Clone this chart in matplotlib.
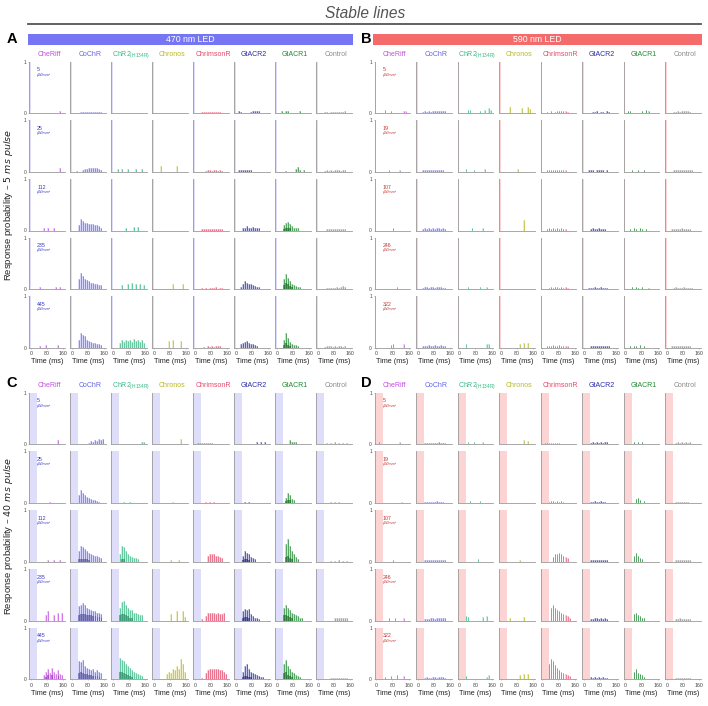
import numpy as np
import matplotlib
matplotlib.use("Agg")
import matplotlib.pyplot as plt
from matplotlib.patches import Rectangle
from matplotlib.lines import Line2D

plt.rcParams['font.family'] = ['Liberation Sans', 'DejaVu Sans']
plt.rcParams['mathtext.fontset'] = 'dejavusans'

# ---------------- data ----------------
CONSTRUCTS = ['CheRiff', 'CoChR', 'ChR2', 'Chronos', 'ChrimsonR', 'GtACR2', 'GtACR1', 'Control']
COLORS = ['#c24fe0', '#6464ec', '#35b884', '#b9b925', '#e5486a', '#2b2ba6', '#1f8a30', '#8a8a8a']
BIN_CENTERS = [5, 15, 25, 35, 45, 55, 65, 75, 85, 95, 105, 115, 125, 135, 145, 155]
INTENS_470 = [5, 25, 112, 235, 445]
INTENS_590 = [5, 19, 107, 246, 322]
X_TICKS = [0, 80, 160]

# Panel A: 470 nm, 5 ms pulse (rows = intensities, 16 time bins of 10 ms)
A_CheRiff = [[0,0,0,0,0,0,0,0,0,0,0,0,0,0,.05,0],
             [0,0,0,0,0,0,0,0,0,0,0,0,0,0,.08,0],
             [0,0,0,0,0,0,.04,0,.05,0,0,.04,0,0,0,0],
             [0,0,0,0,.05,0,0,0,0,0,0,0,.05,0,.05,0],
             [0,0,0,0,.04,0,0,.05,0,0,0,0,0,.05,0,0]]
A_CoChR = [[0,0,0,0,.03,.02,.03,.03,.02,.03,.03,.03,.02,.03,.03,0],
           [0,0,.02,0,0,.03,.05,.06,.08,.08,.08,.08,.07,.06,.03,0],
           [0,0,0,.1,.22,.18,.15,.14,.12,.12,.13,.1,.1,.08,.05,0],
           [0,0,0,.2,.32,.25,.2,.17,.15,.12,.12,.1,.1,.08,.08,0],
           [0,0,0,.15,.28,.25,.22,.15,.13,.12,.1,.1,.08,.08,.06,0]]
A_ChR2 = [[0,0,0,0,0,0,0,0,0,0,0,0,0,0,0,0],
          [0,0,.06,0,.06,0,0,.05,0,0,0,.06,0,0,.05,0],
          [0,0,0,0,0,0,.05,0,0,0,.06,0,.07,0,0,0],
          [0,0,0,0,.08,0,0,.1,0,.12,0,.1,0,.1,0,.08],
          [0,0,0,.1,.14,.12,.15,.13,.14,.12,.16,.13,.14,.12,.15,.1]]
A_Chronos = [[0,0,0,0,0,0,0,0,0,0,0,0,0,0,0,0],
             [0,0,0,.12,0,0,0,0,0,0,0,.11,0,0,0,0],
             [0,0,0,0,0,0,0,0,0,0,0,0,0,0,0,0],
             [0,0,0,0,0,0,0,0,0,.1,0,0,0,0,.1,0],
             [0,0,0,0,0,0,0,.13,0,.14,0,0,0,.13,0,0]]
A_ChrimsonR = [[0,0,0,.02,.03,.03,.02,.03,.03,.02,.03,.03,.02,0,0,0],
               [0,0,0,0,0,.02,.03,.03,.02,.03,.03,.02,.03,.02,0,0],
               [0,0,0,.02,.03,.02,.03,.03,.03,.02,.03,.03,.02,.02,0,0],
               [0,0,0,.02,0,.03,0,.03,.02,.02,.04,0,.03,.02,0,0],
               [0,0,0,0,.02,0,.03,.02,.03,.02,.04,.03,.03,0,0,0]]
A_GtACR2 = [[0,.04,.03,0,0,0,0,.03,.04,.04,.04,.04,0,0,0,0],
            [0,.03,.04,.03,.04,.04,.03,.03,0,0,0,0,0,0,0,0],
            [0,0,0,.05,.04,.08,.05,.05,.06,.05,.04,.04,0,0,0,0],
            [0,0,.04,.1,.15,.12,.1,.1,.08,.06,.05,.04,0,0,0,0],
            [0,0,.08,.1,.12,.13,.1,.08,.08,.06,.04,0,0,0,0,0]]
A_GtACR1 = [[0,0,.04,0,.04,.04,0,0,0,0,0,.04,0,0,0,0],
            [0,0,0,0,.02,0,0,0,0,.05,.1,.04,0,.04,0,0],
            [0,0,0,.1,.14,.16,.12,.08,.05,.05,.04,0,0,0,0,0],
            [0,0,0,.2,.3,.22,.15,.1,.08,.06,.05,.04,0,0,0,0],
            [0,0,0,.15,.28,.18,.12,.08,.06,.05,.04,0,0,0,0,0]]
A_GtACR1_dark = [[0]*16, [0]*16,
                 [0,0,0,.03,.05,.05,.04,0,0,0,0,0,0,0,0,0],
                 [0,0,0,.08,.12,.1,.06,.04,0,0,0,0,0,0,0,0],
                 [0,0,0,.06,.1,.06,.04,0,0,0,0,0,0,0,0,0]]
A_Control = [[0,0,0,.02,.03,0,.03,.02,.03,.03,.02,.03,.03,.04,0,0],
             [0,0,0,.02,.03,.02,.03,.02,.03,.03,.03,.02,.03,.03,0,0],
             [0,0,0,0,.03,.02,.03,.02,.03,.02,.03,.02,.03,.03,0,0],
             [0,0,0,0,.03,.03,.03,.03,.03,.04,.03,.05,.06,.05,0,0],
             [0,0,0,.02,.03,.03,.03,.02,.03,.02,.03,.03,.02,.03,0,0]]

# Panel B: 590 nm, 5 ms pulse
B_CheRiff = [[0,0,0,0,.06,0,0,.05,0,0,0,0,0,.05,.05,0],
             [0,0,0,0,0,0,.04,0,0,0,0,.04,0,0,0,0],
             [0,0,0,0,0,0,0,0,.04,0,0,0,0,0,0,0],
             [0,0,0,0,0,0,0,0,0,0,.04,0,0,0,0,0],
             [0,0,0,0,0,0,0,.06,.08,0,0,0,0,.07,0,0]]
B_CoChR = [[0,0,.03,.04,.03,.04,.03,.04,.04,.05,.04,.05,.04,.04,0,0],
           [0,0,.03,.03,.04,.03,.04,.03,.04,.04,.03,.04,.03,0,0,0],
           [0,0,.03,.04,.03,.04,.03,.04,.03,.04,.04,.03,.04,.03,0,0],
           [0,0,.03,.04,.04,.03,.04,.04,.03,.04,.04,.04,.03,.03,0,0],
           [0,0,.03,.04,.03,.05,.04,.04,.05,.04,.04,.05,.04,.03,0,0]]
B_ChR2 = [[0,0,0,0,.06,.06,0,0,0,0,.05,0,.06,0,.1,.06],
          [0,0,0,.05,0,0,0,.04,0,0,0,0,.05,0,0,0],
          [0,0,0,0,0,0,.04,0,0,0,0,.05,0,0,0,0],
          [0,0,0,0,.04,0,0,0,0,0,.04,0,0,.05,0,0],
          [0,0,0,.08,0,0,0,0,0,0,0,0,0,.07,.08,0]]
B_Chronos = [[0,0,0,0,.12,0,0,0,0,0,.1,0,0,.12,.08,0],
             [0,0,0,0,0,0,0,0,.05,0,0,0,0,0,0,0],
             [0,0,0,0,0,0,0,0,0,0,0,.2,0,0,0,0],
             [0,0,0,0,0,0,0,0,0,0,0,0,0,0,0,0],
             [0,0,0,0,0,0,0,0,0,.08,0,.1,0,.1,0,0]]
B_ChrimsonR = [[0,0,.03,0,.04,0,.03,.04,.05,.04,.05,.04,.03,0,0,0],
               [0,0,.03,.03,.04,.03,.04,.03,.04,.03,.03,.04,0,0,0,0],
               [0,0,.03,.04,.03,.04,.03,.04,.03,.04,.03,.03,0,0,0,0],
               [0,0,0,.03,.04,.03,.04,.04,.03,.04,.03,.04,.03,0,0,0],
               [0,0,.03,.04,.04,.05,.04,.04,.05,.04,.04,.03,.03,0,0,0]]
B_GtACR2 = [[0,0,0,0,.03,.03,.04,0,.03,.03,0,.04,.03,0,0,0],
            [0,0,.03,.03,.03,0,.03,.03,.03,.03,0,.03,0,0,0,0],
            [0,0,0,.03,.04,.03,.03,.04,.03,.03,.03,0,0,0,0,0],
            [0,0,.03,.03,.03,.04,.03,.03,.04,.03,.03,.03,0,0,0,0],
            [0,0,0,.03,.03,.03,.04,.03,.03,.04,.03,.03,.03,0,0,0]]
B_GtACR1 = [[0,.05,.05,0,0,0,0,0,.05,0,.06,.05,0,0,0,0],
            [0,0,0,.04,0,0,.04,0,0,.04,0,0,0,0,0,0],
            [0,0,.03,0,.04,.03,0,.04,.03,0,.03,0,0,0,0,0],
            [0,0,0,.04,0,.04,.03,0,.04,0,0,.03,0,0,0,0],
            [0,0,.04,0,.03,.04,0,.05,0,.04,0,0,0,0,0,0]]
B_Control = [[0,0,0,.03,.03,.04,.03,.04,.04,.05,.04,.03,0,0,0,0],
             [0,0,0,.03,.03,.03,.04,.03,.03,.03,.04,.03,.03,0,0,0],
             [0,0,.03,.03,.03,.03,.03,.04,.03,.03,.03,.03,0,0,0,0],
             [0,0,0,.03,.04,.03,.03,.03,.04,.03,.03,.03,.03,0,0,0],
             [0,0,.03,.03,.03,.04,.03,.03,.03,.03,.04,.03,0,0,0,0]]

# Panel C: 470 nm, 40 ms pulse
C_CheRiff = [[0,0,0,0,0,0,0,0,0,0,0,0,0,.08,0,0],
             [0,0,0,0,0,0,0,0,0,.02,0,0,0,0,0,0],
             [0,0,0,0,0,0,0,0,.04,0,0,.04,0,0,.04,0],
             [0,0,0,0,0,0,0,.1,.18,0,0,.1,0,.14,0,.14],
             [0,0,0,0,0,0,.08,.15,.2,.12,.22,.15,.1,.18,.1,.08]]
C_CheRiff_dark = [[0]*16, [0]*16, [0]*16, [0]*16,
                  [0,0,0,0,0,0,0,.05,.08,0,.08,0,0,.06,0,0]]
C_CoChR = [[0,0,0,0,0,0,0,0,.03,.06,.05,.08,.06,.1,.08,.1],
           [0,0,0,.15,.25,.2,.15,.12,.1,.08,.06,.05,.04,.03,0,0],
           [0,0,0,.2,.3,.28,.25,.2,.18,.16,.14,.12,.12,.1,.08,0],
           [0,0,0,.28,.3,.34,.3,.25,.22,.2,.18,.18,.15,.15,.12,0],
           [0,0,0,.35,.33,.38,.25,.22,.2,.18,.2,.15,.18,.15,.12,0]]
C_CoChR_dark = [[0]*16, [0]*16,
                [0,0,0,.05,.06,.06,.05,.05,.04,0,0,0,0,0,0,0],
                [0,0,0,.1,.12,.12,.12,.1,.1,.1,.08,.08,.06,.06,.05,0],
                [0,0,0,.12,.14,.12,.1,.1,.08,.08,.07,.06,.06,.05,0,0]]
C_ChR2 = [[0,0,0,0,0,0,0,0,0,0,0,0,0,0,.05,.05],
          [0,0,0,0,0,.03,0,0,.03,0,0,0,0,0,0,0],
          [0,0,0,.15,.3,.28,.2,.15,.12,.1,.08,.08,.05,0,0,0],
          [0,0,0,.25,.35,.38,.3,.25,.2,.2,.15,.15,.12,.1,.1,0],
          [0,0,0,.42,.38,.35,.3,.25,.22,.18,.15,.12,.1,.08,.06,0]]
C_ChR2_dark = [[0]*16, [0]*16,
               [0,0,0,0,.06,.05,0,0,0,0,0,0,0,0,0,0],
               [0,0,0,.1,.12,.12,.1,.08,.05,.05,0,0,0,0,0,0],
               [0,0,0,.15,.15,.12,.1,.08,.06,.05,0,0,0,0,0,0]]
C_Chronos = [[0,0,0,0,0,0,0,0,0,0,0,0,0,.1,0,0],
             [0,0,0,0,0,0,0,0,0,.03,0,0,0,0,0,0],
             [0,0,0,0,0,0,0,0,.04,0,0,0,.04,0,0,0],
             [0,0,0,0,0,0,0,0,.12,0,0,.18,0,0,.18,.06],
             [0,0,0,0,0,0,.1,.15,.12,.2,.18,.25,.2,.4,.3,.15]]
C_ChrimsonR = [[0,.03,.03,.03,.02,.03,.03,.03,.02,0,0,0,0,0,0,0],
               [0,0,0,0,0,.02,0,.02,0,.02,0,0,0,0,0,0],
               [0,0,0,0,0,0,.12,.15,.15,.15,.12,.12,.1,.08,0,0],
               [0,0,0,.03,0,.08,.14,.15,.15,.14,.13,.15,.12,.12,.15,0],
               [0,0,0,.03,0,.12,.18,.2,.2,.2,.19,.2,.18,.18,.15,.1]]
C_GtACR2 = [[0,0,0,0,0,0,0,0,0,0,.04,0,.04,0,.05,0],
            [0,0,0,0,.02,0,.02,0,0,0,0,0,0,0,0,0],
            [0,0,0,.12,.2,.18,.15,.1,.08,.05,0,0,0,0,0,0],
            [0,0,0,.18,.22,.2,.22,.12,.08,.05,.04,.03,0,0,0,0],
            [0,0,0,.15,.25,.3,.2,.15,.12,.1,.08,.06,.05,.04,0,0]]
C_GtACR2_dark = [[0]*16, [0]*16,
                 [0,0,0,.04,.05,.05,.04,0,0,0,0,0,0,0,0,0],
                 [0,0,0,.05,.06,.06,.05,0,0,0,0,0,0,0,0,0],
                 [0,0,0,.05,.06,.07,.05,.04,0,0,0,0,0,0,0,0]]
C_GtACR1 = [[0,0,0,0,0,0,.08,.05,.05,.04,0,0,0,0,0,0],
            [0,0,0,0,.1,.2,.15,.08,.05,0,0,0,0,0,0,0],
            [0,0,0,0,.35,.45,.3,.2,.15,.1,.06,0,0,0,0,0],
            [0,0,0,.25,.3,.25,.2,.15,.12,.1,.08,.05,.04,0,0,0],
            [0,0,0,.3,.38,.25,.2,.15,.12,.08,.06,.05,0,0,0,0]]
C_GtACR1_dark = [[0]*16,
                 [0,0,0,0,.04,.06,.05,0,0,0,0,0,0,0,0,0],
                 [0,0,0,0,.1,.12,.08,.05,0,0,0,0,0,0,0,0],
                 [0,0,0,.1,.1,.08,.06,.04,0,0,0,0,0,0,0,0],
                 [0,0,0,.12,.15,.08,.06,.04,0,0,0,0,0,0,0,0]]
C_Control = [[0,0,0,0,.03,0,.03,0,.05,0,.03,0,.03,0,.03,0],
             [0,0,0,0,0,0,.02,0,.02,0,.02,0,0,0,0,0],
             [0,0,0,0,0,0,.02,0,.02,0,.03,0,.02,0,.02,0],
             [0,0,0,0,0,0,0,0,.04,.04,.04,.04,.04,.04,.04,0],
             [0,0,0,0,0,0,.03,.02,.03,.02,.03,.03,.03,.02,.03,0]]

# Panel D: 590 nm, 40 ms pulse
D_CheRiff = [[0,.04,0,0,0,0,0,0,0,0,0,.05,0,0,0,0],
             [0,0,0,0,0,0,0,0,0,0,0,0,.03,0,0,0],
             [0,0,0,0,0,0,0,0,.03,0,0,0,0,0,0,0],
             [0,0,0,0,0,0,.05,0,0,.05,0,0,0,.05,0,0],
             [0,0,0,0,.04,0,0,.06,0,0,.08,0,0,.06,0,0]]
D_CoChR = [[0,0,0,.03,.03,.03,.03,.03,.03,.03,.04,.03,.03,.03,0,0],
           [0,0,0,.03,.03,.03,.03,.03,.03,.04,.03,.03,.03,0,0,0],
           [0,0,0,.03,.03,.04,.03,.03,.04,.03,.03,.04,.03,.03,0,0],
           [0,0,0,.03,.03,.03,.04,.04,.03,.04,.05,.04,.05,.04,0,0],
           [0,0,0,.03,.04,.03,.03,.04,.04,.03,.04,.05,.04,.03,0,0]]
D_ChR2 = [[0,0,0,0,.05,0,0,.04,0,0,0,.05,0,0,0,0],
          [0,0,0,0,0,.04,0,0,0,0,.04,0,0,0,0,0],
          [0,0,0,0,0,0,0,0,0,.05,0,0,0,0,0,0],
          [0,0,0,.08,.07,0,0,0,0,0,0,.06,0,.08,0,0],
          [0,0,0,.06,0,0,0,0,0,0,0,0,0,.05,.08,0]]
D_Chronos = [[0,0,0,0,0,0,0,0,0,0,0,.08,0,.06,0,0],
             [0,0,0,0,0,0,0,0,0,0,0,0,0,0,0,0],
             [0,0,0,0,0,0,0,0,0,.04,0,0,0,0,0,0],
             [0,0,0,0,.05,0,0,0,0,0,0,.07,0,0,0,0],
             [0,0,0,0,0,0,0,0,0,.08,0,.1,0,.1,0,0]]
D_ChrimsonR = [[0,.02,.03,.03,.02,.03,.03,.02,.03,0,0,0,0,0,0,0],
               [0,0,0,.03,.04,.04,.03,.04,.03,.04,.03,0,0,0,0,0],
               [0,0,0,0,0,.1,.15,.16,.17,.15,.12,.1,.08,0,0,0],
               [0,0,0,0,.25,.3,.25,.2,.18,.15,.12,.1,.08,.05,0,0],
               [0,0,0,.3,.4,.35,.28,.22,.18,.15,.12,.1,.08,.06,0,0]]
D_GtACR2 = [[0,0,0,.03,.04,.03,.04,.03,.04,.03,.04,.04,0,0,0,0],
            [0,0,0,.03,.03,.04,.03,.03,.04,.03,.03,0,0,0,0,0],
            [0,0,0,.03,.04,.03,.04,.04,.03,.04,.03,.03,0,0,0,0],
            [0,0,0,.03,.03,.04,.04,.03,.04,.03,.04,.03,0,0,0,0],
            [0,0,0,.04,.03,.04,.03,.04,.03,.04,.03,.03,0,0,0,0]]
D_GtACR1 = [[0,0,0,0,.05,0,.05,0,.04,0,0,0,0,0,0,0],
            [0,0,0,0,0,.08,.1,.05,0,.04,0,0,0,0,0,0],
            [0,0,0,0,.12,.18,.12,.08,.05,0,0,0,0,0,0,0],
            [0,0,0,0,.12,.15,.1,.08,.05,.04,0,0,0,0,0,0],
            [0,0,0,0,.15,.2,.12,.1,.08,.05,0,0,0,0,0,0]]
D_Control = [[0,0,0,0,.03,.04,.03,.04,.03,.05,.03,.04,0,0,0,0],
             [0,0,0,0,.03,.03,.03,.03,.03,.03,.03,0,0,0,0,0],
             [0,0,0,0,.03,.03,.03,.03,.03,.03,.03,.03,0,0,0,0],
             [0,0,0,0,.03,.03,.04,.03,.03,.03,.03,.03,0,0,0,0],
             [0,0,0,0,.03,.03,.03,.03,.03,.03,.03,.03,0,0,0,0]]

PANEL_A = [A_CheRiff, A_CoChR, A_ChR2, A_Chronos, A_ChrimsonR, A_GtACR2, A_GtACR1, A_Control]
PANEL_B = [B_CheRiff, B_CoChR, B_ChR2, B_Chronos, B_ChrimsonR, B_GtACR2, B_GtACR1, B_Control]
PANEL_C = [C_CheRiff, C_CoChR, C_ChR2, C_Chronos, C_ChrimsonR, C_GtACR2, C_GtACR1, C_Control]
PANEL_D = [D_CheRiff, D_CoChR, D_ChR2, D_Chronos, D_ChrimsonR, D_GtACR2, D_GtACR1, D_Control]
DARK_A = {6: A_GtACR1_dark}
DARK_C = {0: C_CheRiff_dark, 1: C_CoChR_dark, 2: C_ChR2_dark, 5: C_GtACR2_dark, 6: C_GtACR1_dark}

# ---------------- layout ----------------
W, H = 708, 706
fig = plt.figure(figsize=(W / 100, H / 100), dpi=100)

def fx(x):
    return x / W

def fy(y):
    return 1 - y / H

XMIN, XMAX = -8, 168
BLUE_BAND = '#dedefb'
RED_BAND = '#fcd4d4'
SPINE = '#9a9a9a'

def darker(c, f=0.65):
    r, g, b = matplotlib.colors.to_rgb(c)
    return (r * f, g * f, b * f)

def draw_panel(data, dark, x0, dx, y0, dy, band_end, band_color, intens, lab_color, letter,
               letter_x, header=None):
    aw, ah = 35.5, 51.6
    centers = np.array(BIN_CENTERS, dtype=float)
    for j, name in enumerate(CONSTRUCTS):
        col = COLORS[j]
        for i in range(5):
            left = x0 + j * dx
            top = y0 + i * dy
            ax = fig.add_axes([fx(left), fy(top + ah), aw / W, ah / H])
            ax.set_xlim(XMIN, XMAX)
            ax.set_ylim(0, 1)
            ax.axvspan(XMIN, band_end, color=band_color, lw=0, zorder=0)
            vals = np.array(data[j][i], dtype=float)
            m = vals > 0
            ax.bar(centers[m], vals[m], width=7.5, color=col, alpha=0.25, lw=0, zorder=1)
            ax.vlines(centers[m], 0, vals[m], color=col, lw=0.6, alpha=0.8, zorder=2)
            if j in dark:
                dv = np.array(dark[j][i], dtype=float)
                md = dv > 0
                ax.bar(centers[md], dv[md], width=6, color=darker(col), alpha=0.55, lw=0, zorder=3)
            for s in ['top', 'right']:
                ax.spines[s].set_visible(False)
            for s in ['left', 'bottom']:
                ax.spines[s].set_color(SPINE)
                ax.spines[s].set_linewidth(0.6)
            if j == 0:
                ax.set_yticks([0, 1])
                ax.set_yticklabels(['0', '1'], fontsize=3.5, color='#444')
                ax.tick_params(axis='y', length=1, width=0.4, pad=1, colors=SPINE, labelcolor='#444')
                ax.text(0.22, 0.84, str(intens[i]), transform=ax.transAxes, fontsize=3.8,
                        color=lab_color, ha='left', va='center')
                ax.text(0.22, 0.75, 'µW/mm²', transform=ax.transAxes, fontsize=2.6,
                        color=lab_color, ha='left', va='center')
            else:
                ax.set_yticks([])
            if i == 4:
                ax.set_xticks(X_TICKS)
                ax.set_xticklabels([str(t) for t in X_TICKS], fontsize=3.8, color='#444')
                ax.tick_params(axis='x', length=1, width=0.4, pad=1.5, colors=SPINE, labelcolor='#444')
                ax.set_xlabel('Time (ms)', fontsize=5.2, labelpad=1.6, color='#222')
            else:
                ax.set_xticks([])
        # column title
        cx = x0 + j * dx + aw / 2 + 2
        label = name if name != 'ChR2' else r'ChR2$_{\mathregular{(H134R)}}$'
        fig.text(fx(cx), fy(y0 - 7), label, color=col, fontsize=5.0,
                 ha='center', va='center')
    # panel letter
    fig.text(fx(letter_x), fy(y0 - 23 if header else y0 - 10), letter, fontsize=10.5,
             fontweight='bold', ha='center', va='center')
    if header:
        txt, hcol = header
        bx0, bx1 = x0 - 1.5, x0 + 7 * dx + aw + 1
        fig.patches.append(Rectangle((fx(bx0), fy(44.5)), (bx1 - bx0) / W, 10 / H,
                                     transform=fig.transFigure, color=hcol, lw=0))
        fig.text(fx((bx0 + bx1) / 2), fy(39.5), txt, color='white', fontsize=6.3,
                 ha='center', va='center')

A_X0, B_X0 = 29.3, 374.7
A_DX, B_DX = 41.0, 41.5
TOP_Y0, BOT_Y0 = 61.7, 392.7
TOP_DY, BOT_DY = 58.6, 58.75

draw_panel(PANEL_A, DARK_A, A_X0, A_DX, TOP_Y0, TOP_DY, -1, BLUE_BAND, INTENS_470, '#3a3ac2', 'A',
           12, header=('470 nm LED', '#7676f4'))
draw_panel(PANEL_B, {}, B_X0, B_DX, TOP_Y0, TOP_DY, -1, RED_BAND, INTENS_590, '#c23535', 'B',
           366.5, header=('590 nm LED', '#f56a6a'))
draw_panel(PANEL_C, DARK_C, A_X0, A_DX, BOT_Y0, BOT_DY, 32, BLUE_BAND, INTENS_470, '#3a3ac2', 'C',
           12)
draw_panel(PANEL_D, {}, B_X0, B_DX, BOT_Y0, BOT_DY, 32, RED_BAND, INTENS_590, '#c23535', 'D',
           366.5)

# title and rule
fig.text(fx(365), fy(13), 'Stable lines', fontsize=11.2, style='italic', color='#555',
         ha='center', va='center')
fig.add_artist(Line2D([fx(28), fx(701)], [fy(24), fy(24)], color='#555', lw=1.3))

# y labels
fig.text(fx(9), fy(205), r'Response probability – $\mathit{5\ ms\ pulse}$', rotation=90,
         fontsize=6.8, ha='center', va='center', color='#222')
fig.text(fx(9), fy(536), r'Response probability – $\mathit{40\ ms\ pulse}$', rotation=90,
         fontsize=6.8, ha='center', va='center', color='#222')

fig.savefig('out.png', dpi=100)
